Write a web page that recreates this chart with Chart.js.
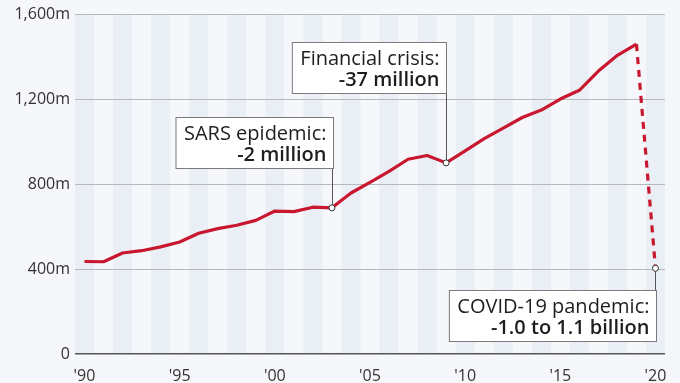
<!DOCTYPE html>
<html>
<head>
<meta charset="utf-8">
<script src="https://cdn.jsdelivr.net/npm/chart.js@4.4.1/dist/chart.umd.min.js"></script>
<style>
html,body{margin:0;padding:0;background:#f5f7fa;}
#wrap{width:680px;height:383px;position:relative;}
</style>
</head>
<body>
<div id="wrap"><canvas id="c" width="680" height="383"></canvas></div>
<script>
// Categories (years)
const years = [1990,1991,1992,1993,1994,1995,1996,1997,1998,1999,2000,2001,2002,2003,2004,2005,2006,2007,2008,2009,2010,2011,2012,2013,2014,2015,2016,2017,2018,2019,2020];
// International tourist arrivals (millions)
const arrivals = [436,435,476,487,505,528,569,591,607,630,674,671,692,689,759,809,861,918,936,901,958,1015,1065,1115,1150,1202,1243,1334,1408,1461,404];
// Y axis ticks
const yTicks = [0,400,800,1200,1600];
// Annotations
const annotYears = [2003, 2009, 2020];
const annotTitles = ['SARS epidemic:', 'Financial crisis:', 'COVID-19 pandemic:'];
const annotValues = ['-2 million', '-37 million', '-1.0 to 1.1 billion'];

const FONT = "'Open Sans', 'Noto Sans', sans-serif";
const RED = '#c8172f';

const bgPlugin = {
  id: 'bg',
  beforeDraw(chart) {
    const {ctx, scales:{x, y}} = chart;
    ctx.save();
    ctx.fillStyle = '#f5f7fa';
    ctx.fillRect(0, 0, chart.width, chart.height);
    const w = x.getPixelForValue(1) - x.getPixelForValue(0);
    const top = y.getPixelForValue(yTicks[yTicks.length-1]);
    const bot = y.getPixelForValue(0);
    ctx.fillStyle = '#eaeff6';
    for (let i = 0; i < years.length; i += 2) {
      const cx = x.getPixelForValue(i);
      ctx.fillRect(cx - w/2, top, w, bot - top);
    }
    ctx.restore();
  }
};

const annotPlugin = {
  id: 'annot',
  afterDatasetsDraw(chart) {
    const ctx = chart.ctx;
    const meta = chart.getDatasetMeta(0);
    const cfg = [
      {dx: 1, side: 'above', gap: 40},
      {dx: 0, side: 'above', gap: 70},
      {dx: 1, side: 'below', gap: 22}
    ];
    ctx.save();
    annotYears.forEach((yr, k) => {
      const idx = years.indexOf(yr);
      const pt = meta.data[idx];
      const px = pt.x, py = pt.y;
      const c = cfg[k];
      ctx.font = '20px ' + FONT;
      const w1 = ctx.measureText(annotTitles[k]).width;
      ctx.font = '600 20px ' + FONT;
      const w2 = ctx.measureText(annotValues[k]).width;
      const bw = Math.max(w1, w2) + 15;
      const bh = 51;
      const right = Math.round(px + c.dx) + 0.5;
      let top;
      if (c.side === 'above') top = Math.round(py - c.gap - bh) + 0.5;
      else top = Math.round(py + c.gap) + 0.5;
      // connector
      ctx.strokeStyle = '#555';
      ctx.lineWidth = 1;
      ctx.beginPath();
      const lx = Math.round(px) + 0.5;
      ctx.moveTo(lx, py);
      ctx.lineTo(lx, c.side === 'above' ? top + bh : top);
      ctx.stroke();
      // box
      ctx.fillStyle = '#ffffff';
      ctx.fillRect(right - bw, top, bw, bh);
      ctx.strokeStyle = '#7a7a7a';
      ctx.strokeRect(right - bw, top, bw, bh);
      // text
      ctx.fillStyle = '#1e1e1e';
      ctx.textAlign = 'right';
      ctx.textBaseline = 'alphabetic';
      ctx.font = '20px ' + FONT;
      ctx.fillText(annotTitles[k], right - 7, top + 22);
      ctx.font = '600 20px ' + FONT;
      ctx.fillText(annotValues[k], right - 7, top + 43);
      // point
      ctx.beginPath();
      ctx.arc(px, py, 3, 0, Math.PI*2);
      ctx.fillStyle = '#fff';
      ctx.fill();
      ctx.strokeStyle = '#333';
      ctx.stroke();
    });
    ctx.restore();
  }
};

new Chart(document.getElementById('c'), {
  type: 'line',
  data: {
    labels: years.map(String),
    datasets: [{
      data: arrivals,
      borderColor: RED,
      borderWidth: 3.2,
      pointRadius: 0,
      tension: 0,
      borderJoinStyle: 'round',
      segment: {
        borderDash: ctx => ctx.p1DataIndex === years.length - 1 ? [7, 6] : undefined
      }
    }]
  },
  options: {
    responsive: false,
    animation: false,
    devicePixelRatio: 1,
    layout: {padding: {top: 12, right: 15, left: 0, bottom: 0}},
    plugins: {legend: {display: false}, tooltip: {enabled: false}},
    scales: {
      x: {
        offset: true,
        grid: {display: false, drawTicks: false},
        border: {display: false},
        ticks: {
          autoSkip: false,
          maxRotation: 0,
          padding: 13,
          color: '#333',
          font: {family: FONT, size: 16},
          callback: (v, i) => years[i] % 5 === 0 ? "'" + String(years[i]).slice(2) : ''
        },
        afterFit: s => { s.height = 29; }
      },
      y: {
        min: 0, max: 1600,
        afterBuildTicks: s => { s.ticks = yTicks.map(v => ({value: v})); },
        grid: {
          drawTicks: false,
          color: c => c.tick && c.tick.value === 0 ? '#555' : '#b5b9be',
          lineWidth: c => c.tick && c.tick.value === 0 ? 1.5 : 1
        },
        border: {display: false},
        ticks: {
          padding: 5,
          color: '#333',
          font: {family: FONT, size: 16},
          callback: v => v === 0 ? '0' : v.toLocaleString('en-US') + 'm'
        },
        afterFit: s => { s.width = 75; }
      }
    }
  },
  plugins: [bgPlugin, annotPlugin]
});
</script>
</body>
</html>
